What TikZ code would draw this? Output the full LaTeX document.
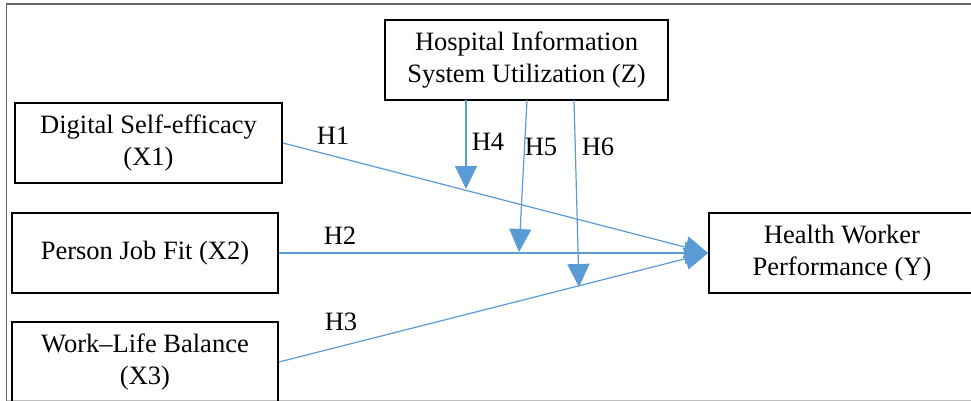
\documentclass[tikz,border=0pt]{standalone}
\usepackage{fontspec}
\setmainfont{Liberation Serif}
\usetikzlibrary{arrows.meta}
\definecolor{arrowblue}{RGB}{91,155,213}
\begin{document}
\begin{tikzpicture}[x=1pt,y=-1pt,
  box/.style={draw=black, line width=2pt, align=center, inner sep=0pt, font=\fontsize{26.5}{31.5}\selectfont},
  tipstyle/.tip={Triangle[length=23pt,width=22pt]},
  link/.style={draw=arrowblue, line width=1.2pt, arrows={-tipstyle}},
  hlab/.style={font=\fontsize{26.5}{31.5}\selectfont, inner sep=0pt},
  frame/.style={draw=black!60, line width=1.5pt}]
\useasboundingbox (0,0) rectangle (971,401);
\clip (0,0) rectangle (971,401);
% outer frame
\draw[frame] (6.5,401) -- (6.5,4) -- (971,4);
\draw[draw=black!25, line width=1pt] (6.5,400.5) -- (971,400.5);
% boxes
\node[box, minimum width=267pt, minimum height=80pt] (x1) at (148.5,143) {Digital Self-efficacy\\(X1)};
\node[box, minimum width=266pt, minimum height=80pt] (x2) at (145,253) {Person Job Fit (X2)};
\node[box, minimum width=266pt, minimum height=80pt] (x3) at (145,362) {Work–Life Balance\\(X3)};
\node[box, minimum width=283pt, minimum height=80pt] (z) at (526.5,60) {Hospital Information\\System Utilization (Z)};
\node[box, minimum width=266pt, minimum height=80pt] (y) at (842,253) {Health Worker\\Performance (Y)};
% direct paths
\draw[link] (x1.east) -- (y.west);
\draw[link] (x2.east) -- (y.west);
\draw[link] (x3.east) -- (y.west);
% moderation
\coordinate (s4) at (466,100);
\coordinate (t4) at (466,189);
\coordinate (s5) at (527,100);
\coordinate (t5) at (519,252);
\coordinate (s6) at (574,100);
\coordinate (t6) at (579,287);
\draw[link] (s4) -- (t4);
\draw[link] (s5) -- (t5);
\draw[link] (s6) -- (t6);
% labels
\node[hlab] (h1) at (333,136) {H1};
\node[hlab] (h2) at (340,236) {H2};
\node[hlab] (h3) at (341,322) {H3};
\node[hlab] (h4) at (488,142) {H4};
\node[hlab] (h5) at (541,147) {H5};
\node[hlab] (h6) at (598,147) {H6};
\end{tikzpicture}
\end{document}
